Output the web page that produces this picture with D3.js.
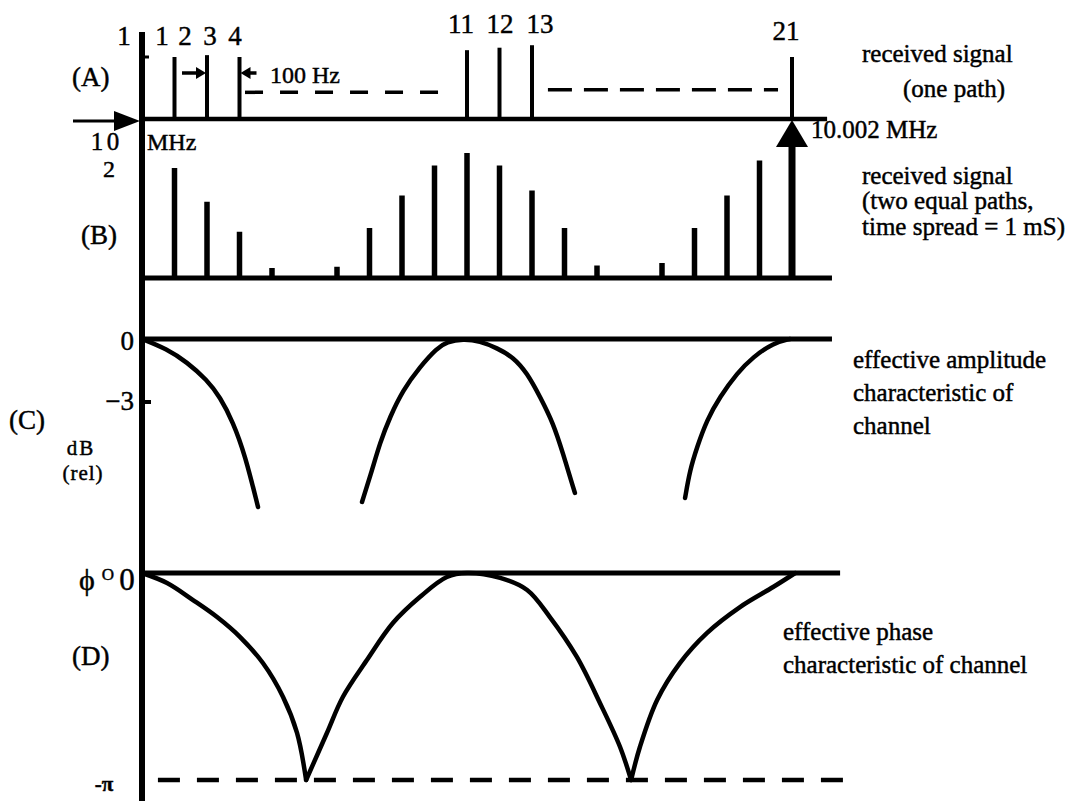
<!DOCTYPE html>
<html>
<head>
<meta charset="utf-8">
<script src="https://cdn.jsdelivr.net/npm/d3@7"></script>
<style>
  html, body { margin: 0; padding: 0; background: #fff; }
  svg { display: block; }
  text { font-family: "Liberation Serif", "Times New Roman", serif; fill: #000; stroke: #000; stroke-width: 0.45px; }
</style>
</head>
<body>
<svg id="chart" width="1089" height="801"></svg>
<script>
// Spectral lines are numbered 1..21, 100 Hz apart (line 1 = 10 MHz, line 21 = 10.002 MHz)

// (A) received signal, one path: lines drawn and their relative heights
const oneLines = [2, 3, 4, 11, 12, 13, 21];
const oneAmps  = [1.0, 1.03, 1.0, 1.11, 1.15, 1.19, 1.0];

// (B) received signal, two equal paths: relative height of every line (line 11 = 1)
const twoLines = [2, 3, 4, 5, 6, 7, 8, 9, 10, 11, 12, 13, 14, 15, 16, 17, 18, 19, 20, 21];
const twoAmps  = [0.88, 0.61, 0.37, 0.08, 0.015, 0.09, 0.40, 0.66, 0.90, 1.0,
                  0.90, 0.70, 0.40, 0.10, 0.015, 0.12, 0.40, 0.66, 0.94, 1.0];

// (C) effective amplitude characteristic, dB (rel); null breaks the curve
const ampLine = [1, 1.77, 2.38, 3.0, 3.4, 3.8, 4.17, 4.57, null,
                 7.77, 8.08, 8.32, 8.63, 9.03, 9.55, 10.08, 10.38, 10.88, 11.4, 11.92, 12.42, 12.85, 13.25, 13.65, 13.95, 14.32, null,
                 17.71, 17.86, 18.08, 18.38, 18.78, 19.31, 19.8, 20.42, 20.94];
const ampDb   = [0, -0.48, -1.1, -1.95, -2.76, -3.95, -5.52, -8.0, null,
                 -7.76, -6.24, -4.95, -3.71, -2.43, -1.33, -0.43, -0.14, 0, -0.1, -0.43, -0.86, -1.62, -2.76, -4.0, -5.43, -7.33, null,
                 -7.57, -6.24, -5.14, -3.86, -2.76, -1.62, -0.86, -0.19, 0];

// (D) effective phase characteristic, degrees
const phaseLine = [1, 1.77, 2.57, 3.31, 4.02, 4.72, 5.34, 5.77, 6.05,
                   6.69, 7.18, 7.92, 8.72, 9.55, 10.38, 11.0, 12.02, 12.85, 13.55, 14.38, 15.09, 15.71, 16.05,
                   16.32, 16.85, 17.55, 18.38, 19.4, 20.42, 21.1];
const phaseDeg  = [0, -8.7, -23.5, -38.3, -55.7, -78.3, -107.8, -139.1, -180,
                   -139.1, -107.8, -75.7, -43.5, -20.9, -3.5, 0, -4.3, -14.8, -38.3, -73.0, -113.0, -151.3, -180,
                   -151.3, -110.4, -78.3, -52.2, -29.6, -12.2, 0];

// Line-number labels along the top of (A)
const topLabels = ["1", "1", "2", "3", "4", "11", "12", "13", "21"];

// ---------------------------------------------------------------- drawing
const svg = d3.select("#chart");

const x  = d3.scaleLinear().domain([1, 21]).range([142, 792]);
const yA = d3.scaleLinear().domain([0, 1]).range([119, 57]);
const yB = d3.scaleLinear().domain([0, 1]).range([278, 153]);
const yC = d3.scaleLinear().domain([0, -3]).range([339, 402]);
const yD = d3.scaleLinear().domain([0, -180]).range([573, 780]);

const ink = "#000";
const g = svg.append("g");

function hline(y, n0, n1, w, dash) {
  const l = g.append("line")
    .attr("x1", x(n0)).attr("x2", x(n1))
    .attr("y1", y).attr("y2", y)
    .attr("stroke", ink).attr("stroke-width", w);
  if (dash) l.attr("stroke-dasharray", dash);
  return l;
}
function text(str, px, py, size, anchor, extra) {
  const t = g.append("text").attr("x", px).attr("y", py)
    .attr("font-size", size).attr("text-anchor", anchor || "start").text(str);
  if (extra) extra(t);
  return t;
}

// common frequency axis (vertical line at line 1)
g.append("line").attr("x1", x(1)).attr("x2", x(1)).attr("y1", 32).attr("y2", 801)
  .attr("stroke", ink).attr("stroke-width", 6);

// ---------- (A)
hline(yA(0), 1, 22.08, 4.5);
g.selectAll(".lineA").data(oneLines).join("line")
  .attr("x1", d => x(d)).attr("x2", d => x(d))
  .attr("y1", yA(0)).attr("y2", (d, i) => yA(oneAmps[i]))
  .attr("stroke", ink).attr("stroke-width", 4);
// small tick on axis at the one-path level
g.append("line").attr("x1", x(1)).attr("x2", x(1) + 7).attr("y1", yA(1)).attr("y2", yA(1))
  .attr("stroke", ink).attr("stroke-width", 3);

// dashed runs showing the omitted lines
hline(yA(0.43), 4.17, 10.63, 3.5, "18,17");
hline(yA(0.47), 13.49, 20.57, 3.5, "24,12");

// 100 Hz spacing arrows between lines 3 and 4
const yArr = 73;
g.append("line").attr("x1", x(3) - 25).attr("x2", x(3) - 8).attr("y1", yArr).attr("y2", yArr)
  .attr("stroke", ink).attr("stroke-width", 3.5);
g.append("path").attr("d", `M${x(3) - 1},${yArr} l-10,-6 l0,12 z`).attr("fill", ink);
g.append("line").attr("x1", x(4) + 8).attr("x2", x(4) + 17).attr("y1", yArr).attr("y2", yArr)
  .attr("stroke", ink).attr("stroke-width", 3.5);
g.append("path").attr("d", `M${x(4) + 1},${yArr} l10,-6 l0,12 z`).attr("fill", ink);
text("100 Hz", 270, 83, 24);

// line-number labels
const labelAt = [[x(1) - 18, 45], [162, 45], [185, 45], [210, 45], [235, 45],
                 [461, 33], [500, 33], [540, 33], [786, 40]];
topLabels.forEach((s, i) => text(s, labelAt[i][0], labelAt[i][1], 27, "middle"));

text("(A)", 72, 86, 27);

// 10 MHz arrow into the axis
g.append("line").attr("x1", 73).attr("x2", x(1) - 20).attr("y1", yA(0) + 2).attr("y2", yA(0) + 2)
  .attr("stroke", ink).attr("stroke-width", 3);
g.append("path").attr("d", `M${x(1) - 2},${yA(0) + 2} l-26,-10 l0,20 z`).attr("fill", ink);
text("1", 97, 150, 25, "middle");
text("0", 113, 150, 25, "middle");
text("2", 109, 177, 24, "middle");
text("MHz", 147, 150, 24);

text("received signal", 862, 62, 25);
text("(one path)", 903, 97, 25);

// ---------- (B)
hline(yB(0), 1, 22.23, 5);
g.selectAll(".lineB").data(twoLines).join("line")
  .attr("x1", d => x(d)).attr("x2", d => x(d))
  .attr("y1", yB(0)).attr("y2", (d, i) => yB(twoAmps[i]))
  .attr("stroke", ink).attr("stroke-width", (d, i) => twoAmps[i] < 0.05 ? 10 : 5.5);

// 10.002 MHz marker: line 21 carried up to the (A) baseline
g.append("line").attr("x1", x(21)).attr("x2", x(21)).attr("y1", yB(0)).attr("y2", yA(0) + 24)
  .attr("stroke", ink).attr("stroke-width", 7);
g.append("path").attr("d", `M${x(21)},${yA(0) + 1} l-16,27 l32,0 z`).attr("fill", ink);
text("10.002 MHz", 811, 138, 25);

text("(B)", 81, 244, 27);
text("received signal", 862, 184, 25);
text("(two equal paths,", 862, 209, 25);
text("time spread = 1 mS)", 862, 235, 25);

// ---------- (C)
hline(yC(0), 1, 22.23, 5);
g.append("line").attr("x1", x(1)).attr("x2", x(1) + 9).attr("y1", yC(-3)).attr("y2", yC(-3))
  .attr("stroke", ink).attr("stroke-width", 4);
const ampPts = ampLine.map((n, i) => [n, ampDb[i]]);
g.append("path")
  .attr("d", d3.line().defined(d => d[0] !== null)
    .x(d => x(d[0])).y(d => yC(d[1])).curve(d3.curveBasis)(ampPts))
  .attr("fill", "none").attr("stroke", ink).attr("stroke-width", 4.5)
  .attr("stroke-linecap", "round");
text("0", 134, yC(0) + 11, 27, "end");
text("\u22123", 134, yC(-3) + 8, 27, "end");
text("(C)", 9, 429, 27);
text("dB", 81, 455, 21, "middle", t => t.attr("letter-spacing", 2));
text("(rel)", 83, 480, 21, "middle", t => t.attr("letter-spacing", 1));

text("effective amplitude", 853, 368, 25);
text("characteristic of", 853, 401, 25);
text("channel", 853, 434, 25);

// ---------- (D)
hline(yD(0), 1, 22.48, 5);
hline(yD(-180), 1.49, 22.72, 4.5, "22,17");
// split the phase curve at its -180 cusps so the cusps stay sharp
const phasePts = phaseLine.map((n, i) => [n, phaseDeg[i]]);
const segments = [];
let cur = [];
phasePts.forEach(p => {
  cur.push(p);
  if (p[1] <= -180) { segments.push(cur); cur = [p]; }
});
segments.push(cur);
const phaseLineGen = d3.line().x(d => x(d[0])).y(d => yD(d[1])).curve(d3.curveCatmullRom.alpha(0.5));
g.selectAll(".phase").data(segments).join("path")
  .attr("d", phaseLineGen)
  .attr("fill", "none").attr("stroke", ink).attr("stroke-width", 4.5)
  .attr("stroke-linejoin", "round").attr("stroke-linecap", "round");

text("\u03D5", 87, yD(0) + 17, 30, "middle");
text("O", 108, yD(0) + 7, 17, "middle");
text("0", 127, yD(0) + 17, 31, "middle");
text("(D)", 72, 665, 27);
text("-\u03C0", 104, 791, 21, "middle", t => t.attr("font-weight", "bold"));

text("effective phase", 783, 640, 25);
text("characteristic of channel", 783, 673, 25);
</script>
</body>
</html>
